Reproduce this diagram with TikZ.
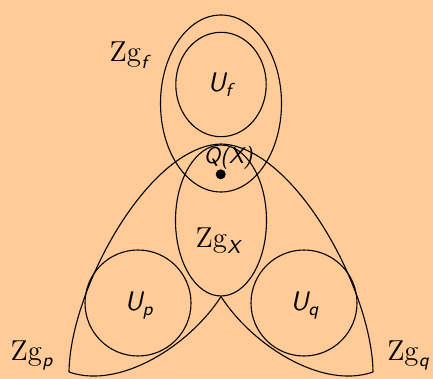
\documentclass[tikz,border=0pt]{standalone}
\usepackage{amsmath}
\usetikzlibrary{shapes.geometric}
\definecolor{bg}{RGB}{255,204,153}
\newcommand{\svar}[1]{\text{\sffamily\itshape #1}}
\begin{document}
\begin{tikzpicture}[x=0.5pt,y=-0.5pt, line width=0.55pt,
  lbl/.style={inner sep=0pt, anchor=base west, font=\fontsize{13.4}{16}\selectfont},
  smalllbl/.style={inner sep=0pt, anchor=base west, font=\fontsize{11.4}{13}\selectfont},
  oval/.style={draw, ellipse, inner sep=0pt},
  rnd/.style={draw, circle, inner sep=0pt}]
\fill[bg] (0,0) rectangle (433,379);
\useasboundingbox (0,0) rectangle (433,379);
% ovals
\node[oval, minimum width=60.5pt, minimum height=88.5pt] (zgf) at (221,103.5) {};
\node[oval, minimum width=45.2pt, minimum height=52.2pt] (uf) at (221,84.5) {};
\node[oval, minimum width=45.5pt, minimum height=75.5pt] (zgx) at (221,220.5) {};
\node[rnd, minimum size=53pt] (up) at (138,303) {};
\node[rnd, minimum size=53pt] (uq) at (304,303) {};
% leaves
\coordinate (L) at (69,372);
\coordinate (R) at (373,372);
\coordinate (T) at (221,144);
\draw (L) .. controls (70,290) and (148,146) .. (T) .. controls (294,146) and (372,290) .. (R);
\draw (zgx.south) .. controls (190,345) and (120,390) .. (L);
\draw (zgx.south) .. controls (252,345) and (322,390) .. (R);
% point
\node[circle, fill, minimum size=5pt, inner sep=0pt] (qx) at (220.7,174.3) {};
% labels
\node[lbl] (tzgf) at (109,61.5) {$\mathrm{Zg}_{\svar{f}}$};
\node[lbl] (tzgp) at (10,360) {$\mathrm{Zg}_{\svar{p}}$};
\node[lbl] (tzgq) at (386.7,360) {$\mathrm{Zg}_{\svar{q}}$};
\node[lbl] (tzgx) at (195,247.3) {$\mathrm{Zg}_{\svar{X}}$};
\node[lbl] (tuf) at (207.3,91.7) {$\svar{U}_{\svar{f}}$};
\node[lbl] (tup) at (124.3,310.7) {$\svar{U}_{\svar{p}}$};
\node[lbl] (tuq) at (290,310.7) {$\svar{U}_{\svar{q}}$};
\node[smalllbl] (tqx) at (203.3,164) {\svar{Q(X)}};
\end{tikzpicture}
\end{document}
